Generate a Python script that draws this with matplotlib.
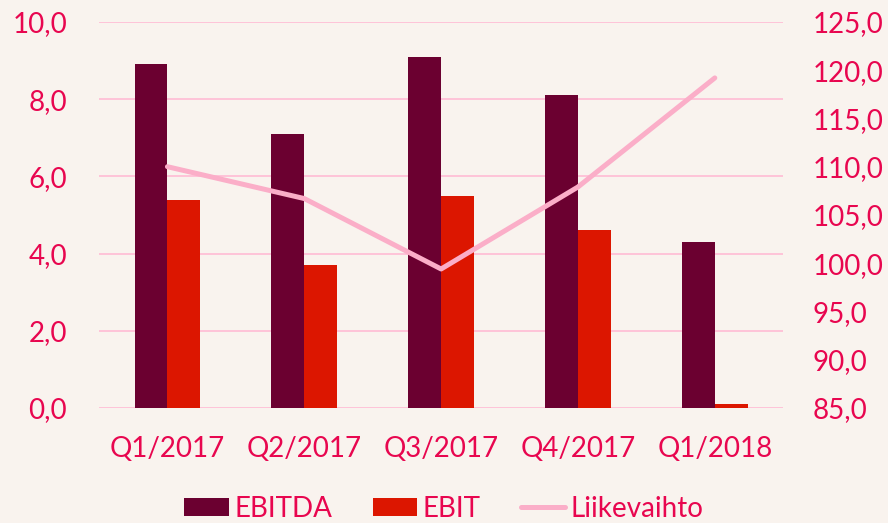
import matplotlib
matplotlib.use("Agg")
import matplotlib.pyplot as plt
import numpy as np
from matplotlib.ticker import FuncFormatter, MultipleLocator

categories = ["Q1/2017", "Q2/2017", "Q3/2017", "Q4/2017", "Q1/2018"]
ebitda = [8.9, 7.1, 9.1, 8.1, 4.3]
ebit = [5.4, 3.7, 5.5, 4.6, 0.1]
liikevaihto = [110.0, 106.7, 99.4, 107.9, 119.2]

bg = "#f9f3ee"
c_ebitda = "#6b0030"
c_ebit = "#dc1600"
c_line = "#fbaec8"
c_text = "#e8064f"
c_grid = "#ffbfd6"

plt.rcParams['font.family'] = ['Lato', 'DejaVu Sans']

fig = plt.figure(figsize=(8.88, 5.23), dpi=100, facecolor=bg)
ax = fig.add_axes([0.1115, 0.22, 0.7705, 0.738], facecolor=bg)
ax2 = ax.twinx()

x = np.arange(len(categories))
w = 0.24
ax.bar(x - w/2, ebitda, w, color=c_ebitda, label="EBITDA", zorder=2)
ax.bar(x + w/2, ebit, w, color=c_ebit, label="EBIT", zorder=2)
ax2.plot(x, liikevaihto, color=c_line, lw=3.6, solid_capstyle='round', label="Liikevaihto", zorder=3)

ax.set_xlim(-0.5, len(categories) - 0.5)
ax.set_ylim(0, 10)
ax2.set_ylim(85, 125)
ax.yaxis.set_major_locator(MultipleLocator(2))
ax2.yaxis.set_major_locator(MultipleLocator(5))
fmt = FuncFormatter(lambda v, p: f"{v:.1f}".replace(".", ","))
ax.yaxis.set_major_formatter(fmt)
ax2.yaxis.set_major_formatter(fmt)

ax.set_axisbelow(True)
ax.grid(axis='y', color=c_grid, lw=1.3, zorder=0)
ax.set_xticks(x)
ax.set_xticklabels(categories)

for a in (ax, ax2):
    for s in a.spines.values():
        s.set_visible(False)
    a.tick_params(length=0, labelsize=20, labelcolor=c_text)
ax.tick_params(axis='x', pad=20)
ax.tick_params(axis='y', pad=23)
ax2.tick_params(axis='y', pad=21)

h1, l1 = ax.get_legend_handles_labels()
h2, l2 = ax2.get_legend_handles_labels()
leg = fig.legend(h1 + h2, l1 + l2, loc='lower center', bbox_to_anchor=(0.5, -0.045), ncol=3,
                 frameon=False, fontsize=20, handlelength=1.6, handleheight=0.65,
                 columnspacing=1.45, handletextpad=0.2)
for t in leg.get_texts():
    t.set_color(c_text)

fig.savefig("out.png", dpi=100, facecolor=bg)
